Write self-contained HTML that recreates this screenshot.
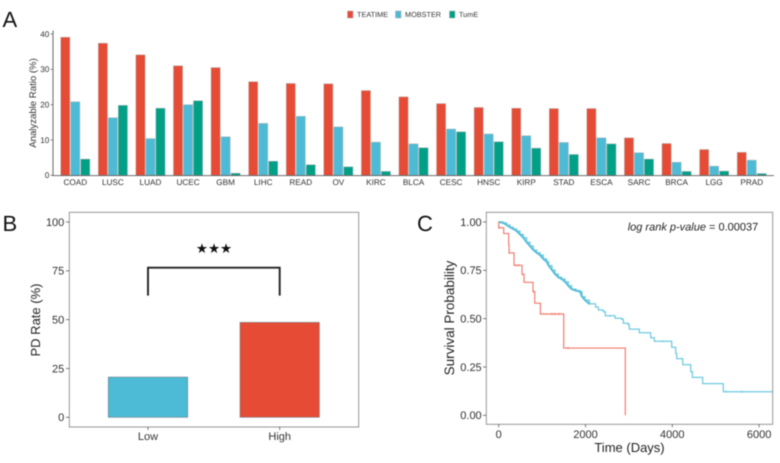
<!DOCTYPE html>
<html lang="en">
<head>
<meta charset="utf-8">
<title>Analyzable ratio, PD rate and survival</title>
<style>
html,body{margin:0;padding:0;background:#fff;width:780px;height:463px;overflow:hidden}
svg{display:block;filter:blur(0.45px)}
text{font-family:"Liberation Sans",Arial,sans-serif;text-rendering:geometricPrecision}
</style>
</head>
<body>
<svg id="fig" xmlns="http://www.w3.org/2000/svg" width="780" height="463" viewBox="0 0 780 463">
  <rect x="0" y="0" width="780" height="463" fill="#ffffff"/>
  <text x="2.5" y="27" font-size="22" fill="#111">A</text>
  <text x="2.5" y="231" font-size="22" fill="#111">B</text>
  <text x="417" y="231" font-size="22" fill="#111">C</text>

  <g>
    <g>
      <rect x="347.5" y="11" width="5.5" height="7" fill="#E64B35" stroke="#aaa" stroke-width="0.5"/>
      <text x="357" y="17.2" font-size="7.3" fill="#333">TEATIME</text>
    </g>
    <g>
      <rect x="395.5" y="11" width="5.5" height="7" fill="#4DBBD5" stroke="#aaa" stroke-width="0.5"/>
      <text x="405" y="17.2" font-size="7.3" fill="#333">MOBSTER</text>
    </g>
    <g>
      <rect x="449.5" y="11" width="5.5" height="7" fill="#00A087" stroke="#aaa" stroke-width="0.5"/>
      <text x="459" y="17.2" font-size="7.3" fill="#333">TumE</text>
    </g>
  </g>

  <g id="panelA"></g>
  <g id="panelB"></g>
  <g id="panelC"></g>
</svg>
<script>
// Panel A data
const cancerTypes = ["COAD","LUSC","LUAD","UCEC","GBM","LIHC","READ","OV","KIRC","BLCA","CESC","HNSC","KIRP","STAD","ESCA","SARC","BRCA","LGG","PRAD"];
const teatimeValues = [39.1,37.4,34.1,31.0,30.5,26.5,26.0,25.9,24.0,22.2,20.3,19.2,19.0,18.9,18.9,10.6,9.0,7.3,6.5];
const mobsterValues = [20.8,16.3,10.4,20.0,10.9,14.7,16.7,13.7,9.4,8.9,13.1,11.7,11.2,9.3,10.6,6.4,3.7,2.6,4.3];
const tumeValues = [4.6,19.8,19.0,21.1,0.6,4.0,3.0,2.4,1.1,7.8,12.3,9.5,7.7,5.9,8.9,4.6,1.1,1.2,0.5];
const ratioTicks = [0,10,20,30,40];

// Panel B data
const pdGroups = ["Low","High"];
const pdValues = [20.6,48.6];
const pdTicks = [0,25,50,75,100];
const bracketLevels = [62.3,76.6];

// Panel C data
const highDays = [0,115,230,240,353,537,583,790,830,960,1498,2917];
const highSurvival = [0.97,0.94,0.88,0.84,0.776,0.73,0.688,0.64,0.58,0.524,0.348,0];
const lowDays = [14,107,184,260,337,414,491,567,644,721,798,875,952,1028,1105,1151,1228,1297,1374,1451,1528,1604,1681,1781,1873,1919,1988,2088,2230,2296,2411,2457,2680,2835,2871,2987,3010,3240,3502,3586,3986,4078,4101,4240,4424,4461,4700,5175];
const lowSurvival = [1.0,0.995,0.984,0.973,0.964,0.953,0.936,0.919,0.895,0.876,0.855,0.841,0.829,0.809,0.795,0.774,0.752,0.731,0.714,0.705,0.691,0.67,0.653,0.645,0.64,0.614,0.596,0.577,0.56,0.545,0.536,0.515,0.502,0.497,0.476,0.467,0.446,0.427,0.401,0.383,0.352,0.32,0.293,0.262,0.226,0.196,0.164,0.122];
const highCensorDays = [20,240,400,460,540,800,1230,1300,1390,1600];
const lowCensorDays = [2560,3780,5240,5600];
const survivalTicks = [0,0.25,0.5,0.75,1];
const dayTicks = [0,2000,4000,6000];

const NS = "http://www.w3.org/2000/svg";
function mk(parent, tag, attrs, txt) {
  const el = document.createElementNS(NS, tag);
  for (const k in attrs) el.setAttribute(k, attrs[k]);
  if (txt !== undefined) el.textContent = txt;
  parent.appendChild(el);
  return el;
}

/* ---------- Panel A ---------- */
(function () {
  const g = document.getElementById("panelA");
  const xA = i => 75.3 + i * 37.58;
  const yA = v => 175.3 - v * 3.5325;
  const series = [
    { vals: teatimeValues, color: "#E64B35", off: -10, key: "teatime" },
    { vals: mobsterValues, color: "#4DBBD5", off: 0, key: "mobster" },
    { vals: tumeValues, color: "#00A087", off: 10, key: "tume" }
  ];
  series.forEach(s => {
    s.vals.forEach((v, i) => {
      const r = mk(g, "rect", { x: xA(i) + s.off - 4.6, y: yA(v), width: 9.2, height: Math.max(0, yA(0) - yA(v)), fill: s.color, stroke: "#b5b5b5", "stroke-width": 0.5 });
      
      
    });
  });
  const xl = mk(g, "line", { x1: 53, x2: 774, y1: 175.6, y2: 175.6, stroke: "#444", "stroke-width": 0.8 });
  
  
  const yl = mk(g, "line", { x1: 53, x2: 53, y1: 30.5, y2: 176, stroke: "#444", "stroke-width": 0.8 });
  
  
  ratioTicks.forEach(t => {
    const m = mk(g, "line", { x1: 50.5, x2: 53, y1: yA(t), y2: yA(t), stroke: "#444", "stroke-width": 0.6 });
    
    
    const l = mk(g, "text", { x: 49.3, y: yA(t) + 2.9, "text-anchor": "end", "font-size": 8.2, fill: "#333" }, String(t));
    
    
  });
  cancerTypes.forEach((c, i) => {
    const l = mk(g, "text", { x: xA(i), y: 185, "text-anchor": "middle", "font-size": 8.2, fill: "#333" }, c);
    
    
  });
  const t = mk(g, "text", { x: 0, y: 0, transform: "translate(36,103) rotate(-90)", "text-anchor": "middle", "font-size": 9.6, fill: "#333" }, "Analyzable Ratio (%)");
  
  
})();

/* ---------- Panel B ---------- */
(function () {
  const g = document.getElementById("panelB");
  const xB = i => 148 + i * 131.7;
  const yB = v => 417.3 - v * 1.953;
  const colors = ["#4DBBD5", "#E64B35"];
  pdValues.forEach((v, i) => {
    const r = mk(g, "rect", { x: xB(i) - 39.7, y: yB(v), width: 79.4, height: yB(0) - yB(v), fill: colors[i], stroke: "#6f7f85", "stroke-width": 0.6 });
    
    
  });
  const box = mk(g, "rect", { x: 69.3, y: 212.3, width: 289.4, height: 214.7, fill: "none", stroke: "#8c8c8c", "stroke-width": 0.9 });
  
  
  pdTicks.forEach(t => {
    const m = mk(g, "line", { x1: 66, x2: 69.3, y1: yB(t), y2: yB(t), stroke: "#444", "stroke-width": 0.7 });
    
    
    const l = mk(g, "text", { x: 64.3, y: yB(t) + 3.9, "text-anchor": "end", "font-size": 11, fill: "#333" }, String(t));
    
    
  });
  pdGroups.forEach((c, i) => {
    const m = mk(g, "line", { x1: xB(i), x2: xB(i), y1: 427, y2: 430, stroke: "#444", "stroke-width": 0.7 });
    
    
    const l = mk(g, "text", { x: xB(i), y: 440, "text-anchor": "middle", "font-size": 11, fill: "#333" }, c);
    
    
  });
  const br = mk(g, "path", { d: "M" + xB(0) + " " + yB(bracketLevels[0]) + "V" + yB(bracketLevels[1]) + "H" + xB(1) + "V" + yB(bracketLevels[0]), fill: "none", stroke: "#222", "stroke-width": 1.9 });
  
  
  const st = mk(g, "text", { x: 214, y: 253, "text-anchor": "middle", "font-size": 13.5, fill: "#111", style: 'font-family:"DejaVu Sans",sans-serif' }, "★★★");
  
  
  const t = mk(g, "text", { x: 0, y: 0, transform: "translate(40,320) rotate(-90)", "text-anchor": "middle", "font-size": 13, fill: "#222" }, "PD Rate (%)");
  
  
})();

/* ---------- Panel C ---------- */
(function () {
  const g = document.getElementById("panelC");
  const xC = d => 498.7 + d * 0.0434;
  const yC = s => 415.3 - s * 193.3;
  const maxDay = 6313;
  const denseUntilDay = 2100;

  const defs = mk(g, "clipPath", { id: "survClip" });
  mk(defs, "rect", { x: 486.3, y: 212.3, width: 286.4, height: 212 });

  function stepPath(days, surv, startS, endDay) {
    let d = "M" + xC(days[0]) + " " + yC(startS);
    days.forEach((t, i) => {
      d += "H" + xC(t) + "V" + yC(surv[i]);
    });
    if (endDay !== undefined) d += "H" + xC(endDay);
    return d;
  }
  function survAt(days, surv, startS, t) {
    let s = startS;
    days.forEach((dd, i) => { if (dd <= t) s = surv[i]; });
    return s;
  }

  const lowLine = mk(g, "path", { d: stepPath(lowDays, lowSurvival, 1.0, maxDay), fill: "none", stroke: "#6FCAE0", "stroke-width": 1.25, "clip-path": "url(#survClip)" });
  
  

  // early, heavily censored stretch reads as one thick smooth band
  let dense = "";
  lowDays.forEach((t, i) => {
    if (t <= denseUntilDay) dense += (dense ? "L" : "M") + xC(t) + " " + yC(lowSurvival[i]);
  });
  const lowDense = mk(g, "path", { d: dense, fill: "none", stroke: "#56BFD8", "stroke-width": 2, "stroke-linejoin": "round", "stroke-linecap": "round" });
  
  

  lowCensorDays.forEach(t => {
    const y = yC(survAt(lowDays, lowSurvival, 1.0, t));
    const m = mk(g, "line", { x1: xC(t), x2: xC(t), y1: y - 1.1, y2: y + 1.1, stroke: "#6FCAE0", "stroke-width": 0.8 });
    
    
  });

  const highLine = mk(g, "path", { d: stepPath(highDays, highSurvival, 1.0), fill: "none", stroke: "#F2796B", "stroke-width": 1.15 });
  
  
  highCensorDays.forEach(t => {
    const y = yC(survAt(highDays, highSurvival, 1.0, t));
    const m = mk(g, "line", { x1: xC(t), x2: xC(t), y1: y - 1.2, y2: y + 1.2, stroke: "#F2796B", "stroke-width": 0.7 });
    
    
  });

  const box = mk(g, "rect", { x: 486.3, y: 212.3, width: 286.4, height: 212, fill: "none", stroke: "#8c8c8c", "stroke-width": 0.9 });
  
  

  survivalTicks.forEach(t => {
    const m = mk(g, "line", { x1: 483, x2: 486.3, y1: yC(t), y2: yC(t), stroke: "#444", "stroke-width": 0.7 });
    
    
    const l = mk(g, "text", { x: 481.7, y: yC(t) + 3.9, "text-anchor": "end", "font-size": 11, fill: "#333" }, t.toFixed(2));
    
    
  });
  dayTicks.forEach(t => {
    const m = mk(g, "line", { x1: xC(t), x2: xC(t), y1: 424.3, y2: 427.3, stroke: "#444", "stroke-width": 0.7 });
    
    
    const l = mk(g, "text", { x: xC(t), y: 438, "text-anchor": "middle", "font-size": 11, fill: "#333" }, String(t));
    
    
  });

  const yt = mk(g, "text", { x: 0, y: 0, transform: "translate(454,318) rotate(-90)", "text-anchor": "middle", "font-size": 13.5, fill: "#222" }, "Survival Probability");
  
  
  const xt = mk(g, "text", { x: 629.5, y: 452, "text-anchor": "middle", "font-size": 13, fill: "#222" }, "Time (Days)");
  
  

  const p = mk(g, "text", { x: 627.7, y: 230.7, "font-size": 11, fill: "#222" });
  
  
  mk(p, "tspan", { "font-style": "italic" }, "log rank p-value");
  mk(p, "tspan", {}, " = 0.00037");
})();
</script>
</body>
</html>
